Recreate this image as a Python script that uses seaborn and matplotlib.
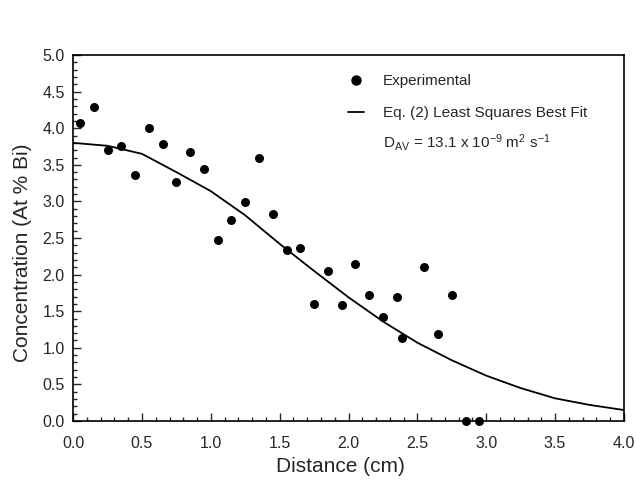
import numpy as np
import pandas as pd
import matplotlib
matplotlib.use("Agg")
import matplotlib.pyplot as plt
import seaborn as sns
from matplotlib.lines import Line2D
from matplotlib.ticker import MultipleLocator, FormatStrFormatter

# Experimental data points
dist_exp = [0.05, 0.15, 0.25, 0.35, 0.45, 0.55, 0.65, 0.75, 0.85, 0.95,
            1.05, 1.15, 1.25, 1.35, 1.45, 1.55, 1.65, 1.75, 1.85, 1.95,
            2.05, 2.15, 2.25, 2.35, 2.39, 2.55, 2.65, 2.75, 2.85, 2.95]
conc_exp = [4.07, 4.29, 3.70, 3.76, 3.36, 4.00, 3.78, 3.26, 3.67, 3.44,
            2.47, 2.75, 2.99, 3.59, 2.83, 2.34, 2.37, 1.60, 2.05, 1.59,
            2.14, 1.72, 1.42, 1.70, 1.14, 2.11, 1.19, 1.72, 0.0, 0.0]

# Least squares fit curve
dist_fit = [0.0, 0.25, 0.5, 0.75, 1.0, 1.25, 1.5, 1.75, 2.0, 2.25,
            2.5, 2.75, 3.0, 3.25, 3.5, 3.75, 4.0]
conc_fit = [3.80, 3.76, 3.65, 3.40, 3.14, 2.81, 2.42, 2.05, 1.69, 1.36,
            1.07, 0.83, 0.62, 0.45, 0.31, 0.22, 0.15]

exp_df = pd.DataFrame({"Distance": dist_exp, "Conc": conc_exp})
fit_df = pd.DataFrame({"Distance": dist_fit, "Conc": conc_fit})

sns.set_style("ticks")
plt.rcParams["font.family"] = ["Liberation Sans", "DejaVu Sans"]
plt.rcParams["mathtext.fontset"] = "custom"
plt.rcParams["mathtext.rm"] = "Liberation Sans"
plt.rcParams["mathtext.it"] = "Liberation Sans"

fig = plt.figure(figsize=(6.36, 4.87), dpi=100)
ax = fig.add_axes([0.115, 0.1355, 0.866, 0.7515])

sns.lineplot(data=fit_df, x="Distance", y="Conc", color="black", linewidth=1.3, ax=ax)
sns.scatterplot(data=exp_df, x="Distance", y="Conc", color="black", s=42,
                edgecolor="black", linewidth=0, zorder=3, clip_on=False, ax=ax)

ax.set_xlim(0, 4.0)
ax.set_ylim(0, 5.0)
ax.xaxis.set_major_locator(MultipleLocator(0.5))
ax.xaxis.set_minor_locator(MultipleLocator(0.1))
ax.yaxis.set_major_locator(MultipleLocator(0.5))
ax.yaxis.set_minor_locator(MultipleLocator(0.1))
ax.xaxis.set_major_formatter(FormatStrFormatter("%.1f"))
ax.yaxis.set_major_formatter(FormatStrFormatter("%.1f"))
ax.tick_params(which="major", direction="in", length=6, width=1, labelsize=11.5)
ax.tick_params(axis="x", which="major", pad=11)
ax.tick_params(axis="y", which="major", pad=6)
ax.tick_params(which="minor", direction="in", length=3, width=1)
for sp in ax.spines.values():
    sp.set_visible(True)
    sp.set_linewidth(1.2)
    sp.set_color("black")

ax.set_xlabel("Distance (cm)", fontsize=15)
ax.set_ylabel("Concentration (At % Bi)", fontsize=15)
ax.xaxis.set_label_coords(0.485, -0.097)
ax.yaxis.set_label_coords(-0.075, 0.46)

handles = [
    Line2D([], [], marker="o", color="black", linestyle="none", markersize=6.5),
    Line2D([], [], color="black", linewidth=1.3),
]
labels = ["Experimental", "Eq. (2) Least Squares Best Fit"]
ax.legend(handles, labels, loc="upper left", bbox_to_anchor=(0.499, 0.947),
          frameon=False, fontsize=11, handlelength=1.05, handletextpad=1.25,
          labelspacing=1.15, borderaxespad=0, borderpad=0)
ax.text(0.5626, 0.747,
        r"D$_{\mathrm{AV}}$ = 13.1 x 10$^{\mathrm{-9}}$ m$^{\mathrm{2}}$ s$^{\mathrm{-1}}$",
        transform=ax.transAxes, fontsize=11, ha="left", va="baseline")

fig.savefig("out.png", dpi=100)
